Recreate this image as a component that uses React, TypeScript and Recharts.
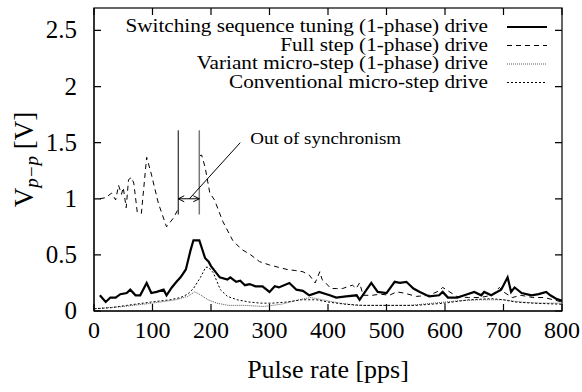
import React from 'react';
import { LineChart, Line, XAxis, YAxis, ReferenceLine, Legend } from 'recharts';

const FONT = '"Liberation Serif", "Times New Roman", serif';

// x ticks (pps) and y ticks (V)
const xTicks = [0, 100, 200, 300, 400, 500, 600, 700, 800];
const yTicks = [0, 0.5, 1, 1.5, 2, 2.5];
const X_MAX = 800;
const Y_MAX = 2.7;

// Switching sequence tuning (1-phase) drive
const switchingX = [10, 20, 28, 37, 45, 56, 62, 71, 79, 90, 98, 107, 119, 124, 133, 141, 148, 157, 165, 170, 180, 185, 190, 196, 200, 206, 215, 228, 233, 243, 250, 258, 266, 276, 288, 300, 309, 316, 334, 346, 357, 368, 385, 403, 414, 431, 449, 454, 466, 474, 485, 500, 514, 523, 534, 546, 557, 573, 590, 596, 605, 621, 633, 650, 662, 667, 679, 696, 707, 713, 719, 731, 748, 760, 773, 780, 790, 800];
const switchingY = [0.14, 0.08, 0.12, 0.12, 0.15, 0.16, 0.19, 0.14, 0.14, 0.25, 0.16, 0.17, 0.19, 0.14, 0.21, 0.26, 0.3, 0.37, 0.54, 0.63, 0.63, 0.55, 0.47, 0.44, 0.4, 0.36, 0.3, 0.28, 0.3, 0.26, 0.27, 0.23, 0.24, 0.22, 0.22, 0.17, 0.22, 0.21, 0.25, 0.19, 0.18, 0.14, 0.17, 0.14, 0.12, 0.13, 0.14, 0.1, 0.19, 0.25, 0.17, 0.16, 0.26, 0.25, 0.26, 0.2, 0.17, 0.13, 0.14, 0.17, 0.12, 0.12, 0.14, 0.17, 0.14, 0.17, 0.14, 0.19, 0.3, 0.17, 0.21, 0.16, 0.14, 0.15, 0.17, 0.14, 0.11, 0.09];

// Full step (1-phase) drive, null = out of synchronism gap
const fullX = [10, 20, 30, 37, 42, 47, 50, 55, 59, 64, 68, 74, 81, 90, 98, 110, 124, 136, 145, 162, 180, 184, 190, 198, 206, 220, 237, 252, 268, 283, 300, 315, 330, 345, 357, 368, 378, 386, 390, 396, 405, 415, 425, 435, 442, 448, 454, 460, 475, 490, 505, 517, 530, 551, 573, 590, 596, 605, 620, 640, 660, 680, 693, 700, 715, 730, 750, 770, 785, 800];
const fullY = [1.0, 1.01, 1.05, 0.99, 1.12, 1.04, 1.1, 0.92, 1.17, 1.19, 1.14, 0.88, 0.87, 1.37, 1.22, 0.96, 0.75, 0.83, 0.92, null, 1.38, 1.39, 1.28, 1.05, 0.99, 0.8, 0.63, 0.55, 0.5, 0.44, 0.41, 0.39, 0.37, 0.36, 0.35, 0.32, 0.25, 0.35, 0.28, 0.25, 0.2, 0.2, 0.2, 0.22, 0.23, 0.2, 0.25, 0.14, 0.14, 0.15, 0.14, 0.17, 0.16, 0.13, 0.14, 0.18, 0.21, 0.18, 0.13, 0.12, 0.12, 0.14, 0.21, 0.17, 0.12, 0.14, 0.12, 0.12, 0.1, 0.08];

// Variant micro-step (1-phase) drive
const variantX = [0, 50, 100, 140, 160, 172, 180, 195, 210, 230, 260, 290, 320, 350, 370, 390, 420, 450, 500, 540, 580, 620, 660, 700, 730, 760, 800];
const variantY = [0.02, 0.04, 0.07, 0.1, 0.13, 0.17, 0.15, 0.1, 0.07, 0.05, 0.05, 0.04, 0.06, 0.1, 0.12, 0.1, 0.07, 0.05, 0.05, 0.05, 0.07, 0.09, 0.1, 0.1, 0.08, 0.07, 0.07];

// Conventional micro-step drive
const conventionalX = [0, 30, 56, 98, 130, 148, 160, 170, 182, 191, 196, 204, 216, 228, 245, 265, 285, 305, 330, 355, 380, 400, 430, 460, 500, 550, 600, 640, 680, 700, 720, 750, 800];
const conventionalY = [0.02, 0.03, 0.05, 0.08, 0.1, 0.12, 0.15, 0.2, 0.3, 0.39, 0.39, 0.34, 0.19, 0.13, 0.1, 0.08, 0.07, 0.07, 0.08, 0.1, 0.1, 0.08, 0.06, 0.05, 0.05, 0.05, 0.07, 0.1, 0.11, 0.1, 0.08, 0.07, 0.06];

// out of synchronism band (pps) and marker extent (V)
const syncBand = [144, 180];
const markerRange = [0.86, 1.61];
const pointerFrom = { x: 163, y: 1.0 };
const pointerTo = { x: 250, y: 1.5 };

const zip = (xs: number[], ys: (number | null)[]) => xs.map((x, i) => ({ x, y: ys[i] }));

const series = [
  { key: 'switching', name: 'Switching sequence tuning (1-phase) drive', data: zip(switchingX, switchingY), stroke: '#000', width: 2.2, dash: undefined },
  { key: 'full', name: 'Full step (1-phase) drive', data: zip(fullX, fullY), stroke: '#000', width: 1, dash: '5 4' },
  { key: 'variant', name: 'Variant micro-step (1-phase) drive', data: zip(variantX, variantY), stroke: '#555', width: 1, dash: '1 1' },
  { key: 'conventional', name: 'Conventional micro-step drive', data: zip(conventionalX, conventionalY), stroke: '#000', width: 1, dash: '2 2' },
];

const TICK_LEN = 7;

const BottomTick = (p: any) => (
  <text x={p.x} y={p.y + 27} textAnchor="middle" fontFamily={FONT} fontSize={24} fill="#000">
    {p.payload.value}
  </text>
);

const LeftTick = (p: any) => (
  <text x={p.x - 17} y={p.y + 8} textAnchor="end" fontFamily={FONT} fontSize={25} fill="#000">
    {p.payload.value}
  </text>
);

// frame with gnuplot-style inward ticks on all four sides; the segment runs
// from (0, 0) to (X_MAX, Y_MAX) so its end points are the plot corners
const frameShape = (p: any) => {
  const { x1, y1, x2, y2 } = p;
  const px = (v: number) => x1 + (v / X_MAX) * (x2 - x1);
  const py = (v: number) => y1 + (v / Y_MAX) * (y2 - y1);
  const d: string[] = [];
  xTicks.forEach((t) => {
    d.push(`M${px(t)},${y1}V${y1 - TICK_LEN}`);
    d.push(`M${px(t)},${y2}V${y2 + TICK_LEN}`);
  });
  yTicks.forEach((t) => {
    d.push(`M${x1},${py(t)}H${x1 + TICK_LEN}`);
    d.push(`M${x2},${py(t)}H${x2 - TICK_LEN}`);
  });
  return (
    <g>
      <rect x={x1} y={y2} width={x2 - x1} height={y1 - y2} fill="none" stroke="#000" strokeWidth={1.2} />
      <path d={d.join(' ')} fill="none" stroke="#000" strokeWidth={1.2} />
    </g>
  );
};

const renderLegend = () => (
  <svg width={582} height={100} style={{ display: 'block' }}>
    {series.map((s, i) => (
      <g key={s.key}>
        <text
          transform={`translate(488,${32 + i * 18.7}) scale(1.14,1)`}
          textAnchor="end"
          fontFamily={FONT}
          fontSize={18.6}
          fill="#000"
        >
          {s.name}
        </text>
        <line x1={507} x2={547} y1={27 + i * 18.5} y2={27 + i * 18.5} stroke={s.stroke} strokeWidth={s.width} strokeDasharray={s.dash} />
      </g>
    ))}
  </svg>
);

const arrowShape = (p: any) => {
  const { x1, y1, x2, y2 } = p;
  return (
    <g>
      <line x1={x1} y1={y1} x2={x2} y2={y2} stroke="#000" strokeWidth={1} />
      <path d={`M${x1 + 6},${y1 - 3} L${x1},${y1} L${x1 + 6},${y1 + 3}`} fill="none" stroke="#000" strokeWidth={1} />
      <path d={`M${x2 - 6},${y2 - 3} L${x2},${y2} L${x2 - 6},${y2 + 3}`} fill="none" stroke="#000" strokeWidth={1} />
    </g>
  );
};

const pointerShape = (p: any) => {
  const { x1, y1, x2, y2 } = p;
  return (
    <g>
      <line x1={x1} y1={y1} x2={x2} y2={y2} stroke="#000" strokeWidth={1} />
      <text transform={`translate(${x2 + 10},${y2 + 1}) scale(1.08,1)`} fontFamily={FONT} fontSize={17.6} fill="#000">
        Out of synchronism
      </text>
    </g>
  );
};

const renderYLabel = (props: any) => {
  const vb = props.viewBox;
  const x = vb.x + 33;
  const y = vb.y + vb.height / 2;
  return (
    <text transform={`translate(${x},${y}) rotate(-90)`} textAnchor="middle" fontFamily={FONT} fontSize={27} fill="#000">
      V
      <tspan fontStyle="italic" fontSize={19} dy={5}>p−p</tspan>
      <tspan dy={-5}> [V]</tspan>
    </text>
  );
};

const renderXLabel = (props: any) => {
  const vb = props.viewBox;
  return (
    <text x={vb.x + vb.width / 2} y={vb.y + 67} textAnchor="middle" fontFamily={FONT} fontSize={26} fill="#000">
      Pulse rate [pps]
    </text>
  );
};

export default function App() {
  return (
    <div style={{ position: 'absolute', left: 0, top: 0, background: '#fff' }}>
      <LineChart width={582} height={392} margin={{ top: 8, right: 20, bottom: 21, left: 0 }}>
        <XAxis
          type="number"
          dataKey="x"
          domain={[0, X_MAX]}
          ticks={xTicks}
          interval={0}
          height={60}
          stroke="#000"
          tickSize={0}
          tickMargin={0}
          tickLine={false}
          tick={BottomTick}
          label={renderXLabel}
        />
        <YAxis
          type="number"
          domain={[0, Y_MAX]}
          ticks={yTicks}
          interval={0}
          width={94}
          stroke="#000"
          tickSize={0}
          tickMargin={0}
          tickLine={false}
          tick={LeftTick}
          label={renderYLabel}
        />
        <Legend
          layout="horizontal"
          verticalAlign="middle"
          align="center"
          content={renderLegend}
          wrapperStyle={{ left: 0, top: 0, width: 582, height: 100, margin: 0, padding: 0 }}
        />
        <ReferenceLine segment={[{ x: 0, y: 0 }, { x: X_MAX, y: Y_MAX }]} shape={frameShape} ifOverflow="visible" />
        {series.map((s) => (
          <Line
            key={s.key}
            data={s.data}
            dataKey="y"
            name={s.name}
            type="linear"
            stroke={s.stroke}
            strokeWidth={s.width}
            strokeDasharray={s.dash}
            dot={false}
            activeDot={false}
            isAnimationActive={false}
          />
        ))}
        <ReferenceLine
          segment={[{ x: syncBand[0], y: markerRange[0] }, { x: syncBand[0], y: markerRange[1] }]}
          stroke="#000"
          strokeWidth={1}
          ifOverflow="visible"
        />
        <ReferenceLine
          segment={[{ x: syncBand[1], y: markerRange[0] }, { x: syncBand[1], y: markerRange[1] }]}
          stroke="#777"
          strokeWidth={1.5}
          ifOverflow="visible"
        />
        <ReferenceLine
          segment={[{ x: syncBand[0], y: 1.0 }, { x: syncBand[1], y: 1.0 }]}
          shape={arrowShape}
          ifOverflow="visible"
        />
        <ReferenceLine
          segment={[pointerFrom, pointerTo]}
          shape={pointerShape}
          ifOverflow="visible"
        />
      </LineChart>
    </div>
  );
}
